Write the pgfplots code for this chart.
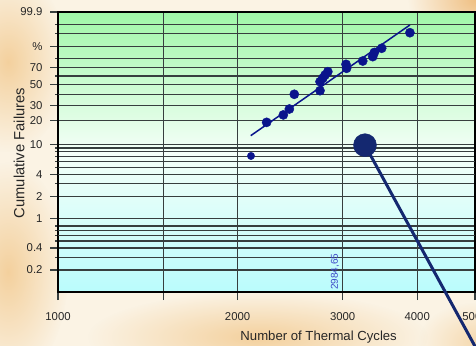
\documentclass[border=0pt]{standalone}
\usepackage{fontspec}
\setmainfont{Liberation Sans}
\usepackage{pgfplots}
\pgfplotsset{compat=1.18}
\usetikzlibrary{fadings}

\definecolor{bgcream}{RGB}{251,243,228}
\definecolor{bgorange}{RGB}{242,200,140}
\definecolor{bgdeep}{RGB}{238,185,118}
\definecolor{plottop}{RGB}{160,247,168}
\definecolor{plotmid}{RGB}{244,255,248}
\definecolor{plotbot}{RGB}{186,252,252}
\definecolor{pointblue}{RGB}{10,20,140}
\definecolor{callout}{RGB}{20,40,112}
\definecolor{gridgray}{RGB}{55,62,62}
\definecolor{labelblue}{RGB}{60,72,200}

% soft-edged blob for the page texture
\tikzfading[name=softblob, inner color=transparent!0, outer color=transparent!100]

\begin{document}
\begin{tikzpicture}
% textured page background
\fill[bgcream] (-58bp,-54bp) rectangle (418bp,292bp);
\fill[bgorange, path fading=softblob, opacity=0.8] (-50bp,230bp) ellipse (60bp and 90bp);
\fill[bgorange, path fading=softblob, opacity=0.8] (-50bp,20bp) ellipse (60bp and 110bp);
\fill[bgorange, path fading=softblob, opacity=0.8] (200bp,-45bp) ellipse (170bp and 45bp);
\fill[bgdeep, path fading=softblob, opacity=0.9] (420bp,292bp) ellipse (70bp and 45bp);
\fill[bgorange, path fading=softblob, opacity=0.6] (420bp,-50bp) ellipse (60bp and 40bp);

\begin{axis}[
  scale only axis, width=417bp, height=280bp,
  at={(0,0)}, anchor=south west,
  xmode=log, xmin=1000, xmax=5000,
  % Weibull probability scale: y = ln(-ln(1-F))
  y filter/.expression={ln(-ln(1-y/100))},
  ymin=-6.9073, ymax=1.9327,
  xtick={1000,1500,2000,3000,4000,5000},
  xticklabels={1000,,2000,3000,4000,5000},
  ytick={1.9327,0.8340,0.1856,-0.3665,-1.0309,-1.4999,-2.2504,-3.1985,-3.9019,-4.6002,-5.5194,-6.2136},
  yticklabels={99.9,\%,70,50,30,20,10,4,2,1,0.4,0.2},
  minor ytick={1.5272,1.2547,0.4759,-0.0874,-0.6717,-2.3612,-2.4843,-2.6232,-2.7826,-2.9702,-3.4912,-4.8243,-4.9583,-5.1130,-5.2958,-5.8076},
  extra y ticks={-0.6717,-2.7826,-2.9702,-3.1985,-4.9583,-5.1130},
  extra y tick labels={},
  extra y tick style={grid style={black, line width=1.1bp}, tick style={draw=none}},
  grid=both,
  grid style={gridgray, line width=1.1bp},
  major grid style={gridgray, line width=1.1bp},
  minor grid style={gridgray, line width=1.1bp},
  tick pos=left, tick align=outside,
  major tick length=8bp, minor tick length=3bp,
  tick style={gridgray, line width=1.1bp},
  axis line style={black, line width=1.3bp},
  axis background/.style={top color=plottop, bottom color=plotbot, middle color=plotmid},
  /pgf/number format/assume math mode=true,
  ticklabel style={font=\fontsize{11.4}{13}\selectfont, text=black!85},
  xticklabel style={yshift=-9.5bp},
  yticklabel style={xshift=-4bp},
  xlabel={Number of Thermal Cycles},
  ylabel={Cumulative Failures},
  xlabel style={font=\fontsize{13.2}{15}\selectfont, text=black!85, at={(axis description cs:0.625,0)}, anchor=center, yshift=-44.7bp},
  ylabel style={font=\fontsize{14.8}{16}\selectfont, text=black!85, at={(axis description cs:0,0.496)}, anchor=center, yshift=39bp},
  clip=false,
]
% heavier base line of the plot frame
\draw[black, line width=2.4bp] (rel axis cs:0,0) -- (rel axis cs:1,0);

% median-rank regression line
\addplot[pointblue, line width=1.5bp] coordinates {(2104,13.0) (3890,98.98)};

% first failure
\addplot[only marks, mark=*, mark size=3.7bp, color=pointblue] coordinates {(2106,7.07)};

% remaining failures (cycles, cumulative %)
\addplot[only marks, mark=*, mark size=4.6bp, color=pointblue] coordinates {
  (2237,19.1) (2386,23.5) (2442,27.6) (2489,40.2)
  (2749,43.8) (2749,53.5) (2778,57.3) (2803,61.1) (2833,65.0)
  (3039,73.4) (3046,68.9) (3242,77.0) (3369,81.5) (3390,85.4)
  (3488,88.9) (3890,97.25)
};

% callout marker with leader line
\addplot[callout, line width=3bp] coordinates {(3270,9.8) (5000,0.015)};
\addplot[only marks, mark=*, mark size=11.5bp, color=callout] coordinates {(3270,9.8)};

\node[rotate=90, anchor=south west, inner sep=2bp, font=\fontsize{10}{12}\selectfont, text=labelblue]
  at (axis cs:2984.65,-6.9073) {2984,65};
\end{axis}
\pgfresetboundingbox
\useasboundingbox (-58bp,-54bp) rectangle (418bp,292bp);
\end{tikzpicture}
\end{document}
